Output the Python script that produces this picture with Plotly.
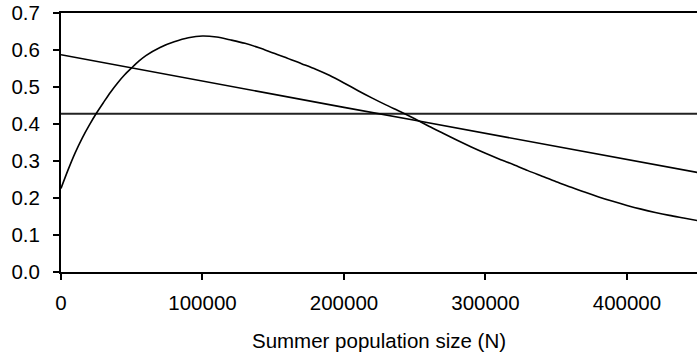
import plotly.graph_objects as go

# Data
hump_n = [0, 5000, 10000, 15000, 20000, 25000, 30000, 35000, 40000, 45000,
          50000, 55000, 60000, 70000, 80000, 90000, 100000, 110000, 120000,
          130000, 140000, 150000, 160000, 170000, 180000, 190000, 200000,
          210000, 220000, 230000, 240000, 250000, 260000, 270000, 280000,
          290000, 300000, 310000, 320000, 330000, 340000, 350000, 360000,
          370000, 380000, 390000, 400000, 410000, 420000, 430000, 440000, 450000]
hump_values = [0.226, 0.276, 0.322, 0.362, 0.397, 0.429, 0.458, 0.486, 0.511, 0.533,
               0.552, 0.570, 0.585, 0.607, 0.622, 0.633, 0.638, 0.635, 0.627,
               0.618, 0.606, 0.592, 0.578, 0.563, 0.548, 0.531, 0.511,
               0.490, 0.470, 0.451, 0.433, 0.414, 0.394, 0.375, 0.356,
               0.338, 0.321, 0.305, 0.290, 0.274, 0.259, 0.244, 0.230,
               0.216, 0.203, 0.191, 0.180, 0.170, 0.161, 0.153, 0.146, 0.139]

decline_n = [0, 50000, 100000, 150000, 200000, 250000, 300000, 350000, 400000, 450000]
decline_values = [0.587, 0.551, 0.516, 0.481, 0.445, 0.410, 0.375, 0.340, 0.305, 0.269]

flat_n = [0, 450000]
flat_values = [0.428, 0.428]

x_ticks = [0, 100000, 200000, 300000, 400000]
y_ticks = [0.0, 0.1, 0.2, 0.3, 0.4, 0.5, 0.6, 0.7]

FONT = "Liberation Sans, Arial, sans-serif"

fig = go.Figure()
fig.add_trace(go.Scatter(x=flat_n, y=flat_values, mode="lines",
                         line=dict(color="#222222", width=2), showlegend=False))
fig.add_trace(go.Scatter(x=decline_n, y=decline_values, mode="lines",
                         line=dict(color="black", width=1.6), showlegend=False))
fig.add_trace(go.Scatter(x=hump_n, y=hump_values, mode="lines", line_shape="spline",
                         line=dict(color="black", width=1.6, smoothing=0.8),
                         showlegend=False))

fig.update_layout(
    width=697, height=354,
    margin=dict(l=61, r=0, t=13, b=82),
    paper_bgcolor="white", plot_bgcolor="white",
    font=dict(family=FONT, size=20.5, color="black"),
)
fig.update_xaxes(
    range=[0, 449500], tickvals=x_ticks, tickformat="d",
    showgrid=False, zeroline=False,
    showline=True, linecolor="black", linewidth=2, mirror=True,
    ticks="outside", ticklen=6, tickwidth=1.5, tickcolor="black",
    ticklabelstandoff=5,
    title=dict(text="Summer population size (N)", standoff=21,
               font=dict(family=FONT, size=20.5, color="black")),
)
fig.update_yaxes(
    range=[0, 0.7], tickvals=y_ticks, tickformat=".1f",
    showgrid=False, zeroline=False,
    showline=True, linecolor="black", linewidth=2,
    ticks="outside", ticklen=6, tickwidth=1.5, tickcolor="black",
    ticklabelstandoff=9,
)

fig.write_html("out.html")
